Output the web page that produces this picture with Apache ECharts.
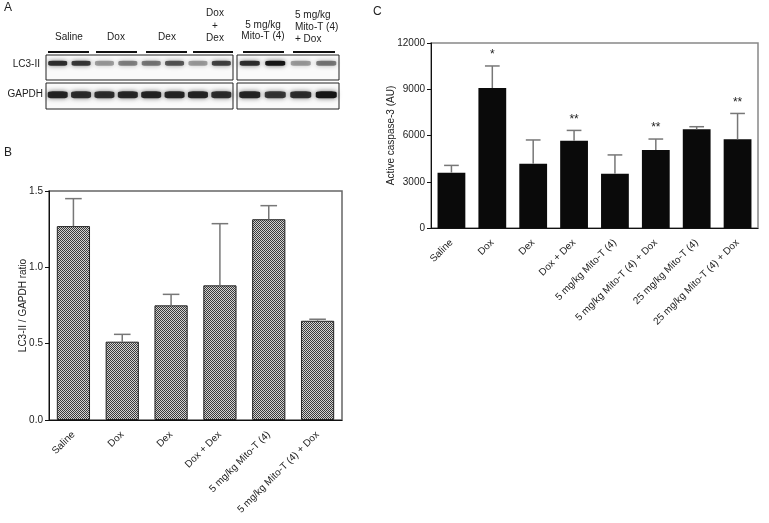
<!DOCTYPE html>
<html><head><meta charset="utf-8">
<script src="https://cdn.jsdelivr.net/npm/echarts@6/dist/echarts.min.js"></script>
<style>html,body{margin:0;padding:0;background:#fff}#c{width:769px;height:523px}</style>
</head><body><div id="c"></div>
<script>
// ---------- DATA ----------
const blotGroups = ['Saline', 'Dox', 'Dex', 'Dox\n+\nDex', '5 mg/kg\nMito-T (4)', '5 mg/kg\nMito-T (4)\n+ Dox'];
const blotLanes1 = ['1', '2', '3', '4', '5', '6', '7', '8'];
const blotLanes2 = ['9', '10', '11', '12'];
const lc3Box1 = [0.85, 0.8, 0.35, 0.45, 0.5, 0.65, 0.35, 0.75];
const lc3Box2 = [0.85, 1.0, 0.35, 0.5];
const gapdhBox1 = [0.9, 0.85, 0.85, 0.88, 0.9, 0.9, 0.9, 0.85];
const gapdhBox2 = [0.9, 0.8, 0.85, 1.0];

const bCategories = ['Saline', 'Dox', 'Dex', 'Dox + Dex', '5 mg/kg Mito-T (4)', '5 mg/kg Mito-T (4) + Dox'];
const bMeans = [1.27, 0.513, 0.751, 0.882, 1.315, 0.650];
const bErrors = [0.18, 0.048, 0.072, 0.404, 0.089, 0.01];
const bTicks = [0, 0.5, 1.0, 1.5];

const cCategories = ['Saline', 'Dox', 'Dex', 'Dox + Dex', '5 mg/kg Mito-T (4)', '5 mg/kg Mito-T (4) + Dox', '25 mg/kg Mito-T (4)', '25 mg/kg Mito-T (4) + Dox'];
const cMeans = [3590, 9080, 4170, 5660, 3520, 5060, 6400, 5750];
const cErrors = [470, 1430, 1540, 670, 1220, 710, 170, 1680];
const cStars = ['', '*', '', '**', '', '**', '', '**'];
const cTicks = [0, 3000, 6000, 9000, 12000];

// ---------- STYLE ----------
const FONT = 'Liberation Sans, Arial, sans-serif';
const TXT = '#222';

const pc = document.createElement('canvas');
pc.width = 2; pc.height = 2;
const pctx = pc.getContext('2d');
pctx.fillStyle = '#d2d2d2'; pctx.fillRect(0, 0, 2, 2);
pctx.fillStyle = '#3a3a3a'; pctx.fillRect(0, 0, 1, 1); pctx.fillRect(1, 1, 1, 1);
const hatch = { image: pc, repeat: 'repeat' };

const chart = echarts.init(document.getElementById('c'), null, { renderer: 'canvas' });

function bandData(arr, yPos) {
  return arr.map((v, i) => ({ value: [i, yPos], itemStyle: { opacity: v } }));
}
function errRender(color, capFrac, showStars, stars) {
  return function (params, api) {
    const i = api.value(0), m = api.value(1), e = api.value(2);
    const p0 = api.coord([i, m]);
    const p1 = api.coord([i, m + e]);
    const w = api.size([1, 0])[0] * capFrac;
    const st = { stroke: color, lineWidth: 1.5 };
    const children = [
      { type: 'line', shape: { x1: p0[0], y1: p0[1], x2: p1[0], y2: p1[1] }, style: st },
      { type: 'line', shape: { x1: p1[0] - w, y1: p1[1], x2: p1[0] + w, y2: p1[1] }, style: st }
    ];
    if (showStars && stars[i]) {
      children.push({ type: 'text', x: p1[0], y: p1[1] - 11,
        style: { text: stars[i], fill: TXT, font: '12px ' + FONT, align: 'center', verticalAlign: 'middle' } });
    }
    return { type: 'group', children: children };
  };
}

const blotGrid = { show: true, backgroundColor: '#fafafa', borderColor: '#222', borderWidth: 1 };
const hiddenCat = (data, gi) => ({ type: 'category', gridIndex: gi, data: data, show: false });
const hiddenVal = (gi) => ({ type: 'value', gridIndex: gi, min: -1, max: 1, show: false });

const catAxisStyle = (margin) => ({
  axisLine: { lineStyle: { color: '#111', width: 1 } },
  axisTick: { alignWithLabel: true, length: 4, lineStyle: { color: '#111' } },
  axisLabel: { rotate: 45, fontSize: 10, color: TXT, fontFamily: FONT, margin: margin, interval: 0 }
});
const valAxisStyle = {
  axisLine: { show: true, lineStyle: { color: '#111', width: 1 } },
  axisTick: { show: true, length: 4, lineStyle: { color: '#111' } },
  splitLine: { show: false },
  nameLocation: 'middle',
  nameMoveOverlap: false,
  nameTextStyle: { fontSize: 10, color: TXT, fontFamily: FONT }
};

const underlines = [[48, 89], [96, 137], [146, 187], [193, 233], [243, 284], [293, 335]];
const groupText = [
  { x: 69, y: 37, align: 'center' }, { x: 116, y: 37, align: 'center' }, { x: 167, y: 37, align: 'center' },
  { x: 215, y: 26, align: 'center', lh: 12.5 }, { x: 263, y: 31, align: 'center', lh: 11 }, { x: 295, y: 27, align: 'left', lh: 12 }
];
const graphic = [];
graphic.push({ type: 'text', left: 4, top: 2, style: { text: 'A', font: '12px ' + FONT, fill: TXT } });
graphic.push({ type: 'text', left: 4, top: 147, style: { text: 'B', font: '12px ' + FONT, fill: TXT } });
graphic.push({ type: 'text', left: 373, top: 6, style: { text: 'C', font: '12px ' + FONT, fill: TXT } });
blotGroups.forEach((g, i) => {
  const t = groupText[i];
  graphic.push({ type: 'text', x: t.x, y: t.y, style: { text: g, font: '10px ' + FONT, fill: TXT, align: t.align, verticalAlign: 'middle', lineHeight: t.lh || 12 } });
  graphic.push({ type: 'line', shape: { x1: underlines[i][0], y1: 52, x2: underlines[i][1], y2: 52 }, style: { stroke: '#111', lineWidth: 2 } });
});
graphic.push({ type: 'text', x: 40, y: 64, style: { text: 'LC3-II', font: '10px ' + FONT, fill: TXT, align: 'right', verticalAlign: 'middle' } });
graphic.push({ type: 'text', x: 43, y: 94, style: { text: 'GAPDH', font: '10px ' + FONT, fill: TXT, align: 'right', verticalAlign: 'middle' } });

const bandStyle = { color: '#151515', shadowBlur: 5, shadowColor: 'rgba(0,0,0,0.6)' };

const option = {
  animation: false,
  backgroundColor: '#fff',
  textStyle: { fontFamily: FONT },
  graphic: graphic,
  grid: [
    Object.assign({ left: 46, top: 55, width: 187, height: 25 }, blotGrid),
    Object.assign({ left: 46, top: 83, width: 187, height: 26 }, blotGrid),
    Object.assign({ left: 237, top: 55, width: 102, height: 25 }, blotGrid),
    Object.assign({ left: 237, top: 83, width: 102, height: 26 }, blotGrid),
    { left: 49, top: 191, right: 427, bottom: 103, show: true, borderColor: '#666', borderWidth: 1.5 },
    { left: 431, top: 43, right: 11, bottom: 295, show: true, borderColor: '#888', borderWidth: 1.5 }
  ],
  xAxis: [
    hiddenCat(blotLanes1, 0), hiddenCat(blotLanes1, 1), hiddenCat(blotLanes2, 2), hiddenCat(blotLanes2, 3),
    Object.assign({ type: 'category', gridIndex: 4, data: bCategories }, catAxisStyle(13)),
    Object.assign({ type: 'category', gridIndex: 5, data: cCategories }, catAxisStyle(13))
  ],
  yAxis: [
    hiddenVal(0), hiddenVal(1), hiddenVal(2), hiddenVal(3),
    Object.assign({ type: 'value', gridIndex: 4, min: bTicks[0], max: bTicks[bTicks.length - 1], interval: 0.5,
      name: 'LC3-II / GAPDH ratio', nameGap: 21,
      axisLabel: { fontSize: 10, color: TXT, fontFamily: FONT, margin: 6, formatter: v => v.toFixed(1) } }, valAxisStyle),
    Object.assign({ type: 'value', gridIndex: 5, min: cTicks[0], max: cTicks[cTicks.length - 1], interval: 3000,
      name: 'Active caspase-3 (AU)', nameGap: 35,
      axisLabel: { fontSize: 10, color: TXT, fontFamily: FONT, margin: 6, formatter: v => String(v) } }, valAxisStyle)
  ],
  series: [
    { type: 'scatter', xAxisIndex: 0, yAxisIndex: 0, symbol: 'roundRect', symbolSize: [19, 5], itemStyle: bandStyle, data: bandData(lc3Box1, 0.35) },
    { type: 'scatter', xAxisIndex: 1, yAxisIndex: 1, symbol: 'roundRect', symbolSize: [20, 7], itemStyle: bandStyle, data: bandData(gapdhBox1, 0.1) },
    { type: 'scatter', xAxisIndex: 2, yAxisIndex: 2, symbol: 'roundRect', symbolSize: [20, 5], itemStyle: bandStyle, data: bandData(lc3Box2, 0.35) },
    { type: 'scatter', xAxisIndex: 3, yAxisIndex: 3, symbol: 'roundRect', symbolSize: [21, 7], itemStyle: bandStyle, data: bandData(gapdhBox2, 0.1) },
    { type: 'bar', xAxisIndex: 4, yAxisIndex: 4, barWidth: '68%', data: bMeans,
      itemStyle: { color: hatch, borderColor: '#222', borderWidth: 1 } },
    { type: 'custom', xAxisIndex: 4, yAxisIndex: 4, z: 5,
      renderItem: errRender('#777', 0.17, false, []),
      data: bMeans.map((m, i) => [i, m, bErrors[i]]) },
    { type: 'bar', xAxisIndex: 5, yAxisIndex: 5, barWidth: '68%', data: cMeans,
      itemStyle: { color: '#0a0a0a' } },
    { type: 'custom', xAxisIndex: 5, yAxisIndex: 5, z: 5,
      renderItem: errRender('#777', 0.18, true, cStars),
      data: cMeans.map((m, i) => [i, m, cErrors[i]]) }
  ]
};
chart.setOption(option);
</script></body></html>
